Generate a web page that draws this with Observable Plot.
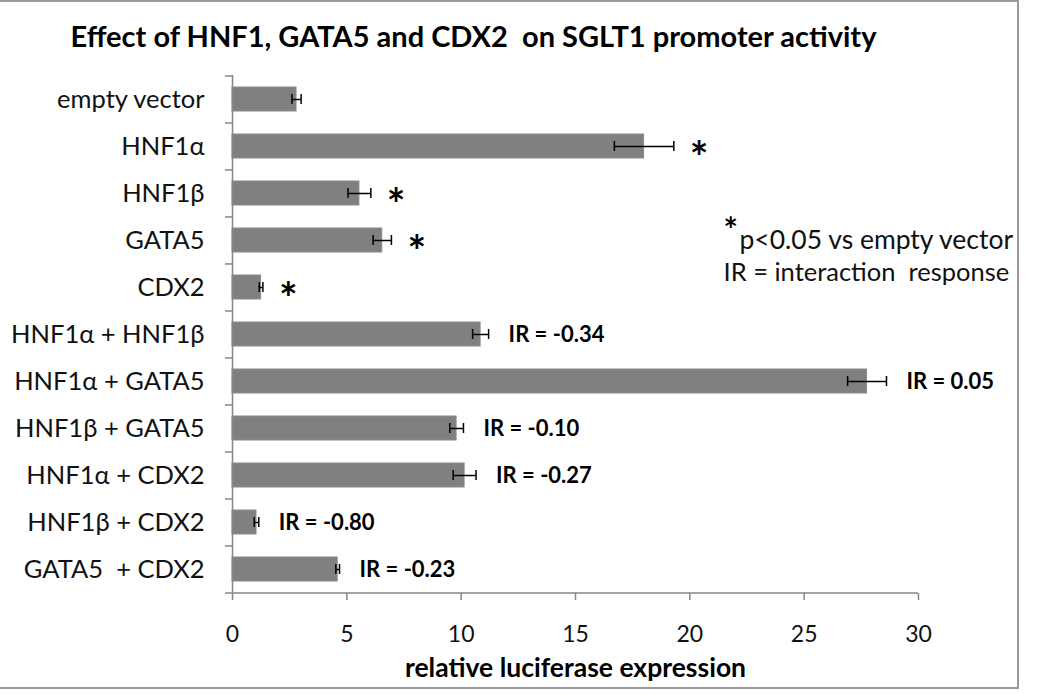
<!DOCTYPE html>
<html>
<head>
<meta charset="utf-8">
<script src="https://cdn.jsdelivr.net/npm/d3@7"></script>
<script src="https://cdn.jsdelivr.net/npm/@observablehq/plot@0.6"></script>
<style>
  html, body { margin: 0; padding: 0; background: #fff; }
  #wrap { position: relative; width: 1050px; height: 694px; overflow: hidden; }
  #border { position: absolute; left: -3px; top: 0px; width: 1022px; height: 689px;
            border: 2px solid #9a9a9a; box-sizing: border-box; }
  #chart { position: absolute; left: 0; top: 0; }
</style>
</head>
<body>
<div id="wrap"><div id="border"></div><div id="chart"></div></div>
<script>
const categories = ["empty vector", "HNF1α", "HNF1β", "GATA5", "CDX2",
  "HNF1α + HNF1β", "HNF1α + GATA5", "HNF1β + GATA5", "HNF1α + CDX2",
  "HNF1β + CDX2", "GATA5  + CDX2"];
const values = [2.8, 18.0, 5.55, 6.55, 1.25, 10.85, 27.75, 9.8, 10.15, 1.05, 4.6];
const errors = [0.2, 1.3, 0.5, 0.4, 0.08, 0.35, 0.85, 0.3, 0.5, 0.1, 0.08];
const significant = [false, true, true, true, true, false, false, false, false, false, false];
const irLabels = [null, null, null, null, null, "IR = -0.34", "IR = 0.05", "IR = -0.10",
  "IR = -0.27", "IR = -0.80", "IR = -0.23"];
const xTicks = [0, 5, 10, 15, 20, 25, 30];
const title = "Effect of HNF1, GATA5 and CDX2  on SGLT1 promoter activity";
const xLabel = "relative luciferase expression";
const legendStar = "*";
const legendLine1 = "p<0.05 vs empty vector";
const legendLine2 = "IR = interaction  response";

const data = categories.map((c, i) => ({cat: c, value: values[i], err: errors[i],
  sig: significant[i], ir: irLabels[i]}));

const W = 1050, H = 694, mL = 232, mR = 132, mT = 75, mB = 101;
const step = (H - mT - mB) / categories.length;
const axisGray = "#868686";

const chart = Plot.plot({
  width: W, height: H,
  marginLeft: mL, marginRight: mR, marginTop: mT, marginBottom: mB,
  style: {fontFamily: "Lato, 'Open Sans', sans-serif", background: "transparent", color: "#111"},
  x: {domain: [0, 30]},
  y: {domain: categories, paddingInner: 0.5, paddingOuter: 0.25},
  marks: [
    Plot.barX(data, {x: "value", y: "cat", fill: "#808080", stroke: "#8c8c8c", strokeWidth: 1}),
    Plot.ruleY(data, {y: "cat", x1: d => d.value - d.err, x2: d => d.value + d.err, stroke: "#000", strokeWidth: 1.5}),
    Plot.tickX(data, {x: d => d.value - d.err, y: "cat", stroke: "#000", strokeWidth: 1.5, insetTop: 7, insetBottom: 7}),
    Plot.tickX(data, {x: d => d.value + d.err, y: "cat", stroke: "#000", strokeWidth: 1.5, insetTop: 7, insetBottom: 7}),
    Plot.ruleX([0], {stroke: axisGray, strokeWidth: 1.5}),
    Plot.ruleY([categories[categories.length - 1]], {y: d => d, dy: step / 2, stroke: axisGray, strokeWidth: 1.5}),
    Plot.ruleY(categories, {y: d => d, x1: 0, x2: 0, insetLeft: -7, dy: -step / 2, stroke: axisGray, strokeWidth: 1.5}),
    Plot.ruleY([categories[categories.length - 1]], {y: d => d, x1: 0, x2: 0, insetLeft: -7, dy: step / 2, stroke: axisGray, strokeWidth: 1.5}),
    Plot.axisX({ticks: xTicks, tickSize: 7, tickPadding: 25, fontSize: 23, stroke: axisGray, strokeWidth: 1.5, label: null, tickFormat: d => String(d)}),
    Plot.axisY({tickSize: 0, tickPadding: 28, fontSize: 25.5, label: null}),
    Plot.text(data.filter(d => d.sig), {x: d => d.value + d.err, y: "cat", text: () => "*",
      textAnchor: "start", dx: 16, dy: 12, fontSize: 44, fontWeight: "bold", fill: "#000"}),
    Plot.text(data.filter(d => d.ir), {x: d => d.value + d.err, y: "cat", text: "ir",
      textAnchor: "start", dx: 20, fontSize: 22, fontWeight: "bold", fill: "#000"}),
    Plot.text([xLabel], {frameAnchor: "bottom", dy: 83, fontSize: 26.5, fontWeight: "bold", fill: "#000"}),
    Plot.text([title], {frameAnchor: "top", dx: -102, dy: -49, fontSize: 29, fontWeight: "bold", fill: "#000"}),
    Plot.text([legendStar], {frameAnchor: "top-left", dx: 491, dy: 142, fontSize: 34, textAnchor: "start", fontWeight: "bold", fill: "#000"}),
    Plot.text([legendLine1], {frameAnchor: "top-left", dx: 507, dy: 155, fontSize: 26.5, textAnchor: "start", fill: "#111"}),
    Plot.text([legendLine2], {frameAnchor: "top-left", dx: 491, dy: 187, fontSize: 25.5, textAnchor: "start", fill: "#111"})
  ]
});
document.getElementById("chart").appendChild(chart);
</script>
</body>
</html>
